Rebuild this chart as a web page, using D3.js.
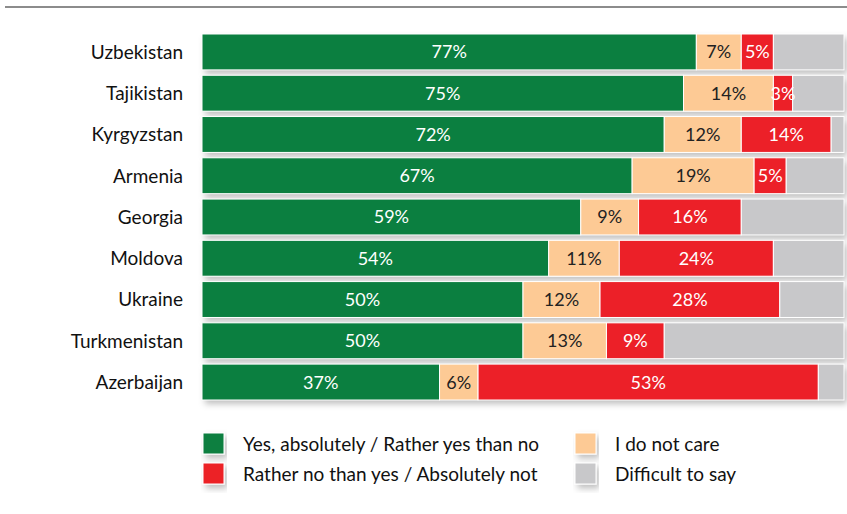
<!DOCTYPE html>
<html>
<head>
<meta charset="utf-8">
<script src="https://cdn.jsdelivr.net/npm/d3@7"></script>
<style>
  body { margin: 0; background: #fff; }
  text { font-family: Lato, "Noto Sans", sans-serif; }
</style>
</head>
<body>
<div id="chart"></div>
<script>
// chart values
var countries = ["Uzbekistan", "Tajikistan", "Kyrgyzstan", "Armenia", "Georgia", "Moldova", "Ukraine", "Turkmenistan", "Azerbaijan"];
var yes = [77, 75, 72, 67, 59, 54, 50, 50, 37];
var dontCare = [7, 14, 12, 19, 9, 11, 12, 13, 6];
var no = [5, 3, 14, 5, 16, 24, 28, 9, 53];
var seriesNames = ["Yes, absolutely / Rather yes than no", "I do not care", "Rather no than yes / Absolutely not", "Difficult to say"];
var colors = ["#0b7f40", "#fdca95", "#ec2028", "#c8c8ca"];

var width = 847, height = 514;
var margin = { top: 34, bottom: 400, left: 202, right: 3 };

var svg = d3.select("#chart").append("svg")
    .attr("width", width)
    .attr("height", height);

var defs = svg.append("defs");
var f = defs.append("filter").attr("id", "shadow")
    .attr("x", "-5%").attr("y", "-20%").attr("width", "115%").attr("height", "160%");
f.append("feDropShadow")
    .attr("dx", 3).attr("dy", 4).attr("stdDeviation", 3)
    .attr("flood-color", "#000").attr("flood-opacity", 0.25);

// top rule
svg.append("line")
    .attr("x1", 5).attr("x2", width)
    .attr("y1", 7).attr("y2", 7)
    .attr("stroke", "#666").attr("stroke-width", 1.5);

var rows = countries.map(function(c, i) {
    return { country: c, yes: yes[i], care: dontCare[i], no: no[i], diff: 100 - yes[i] - dontCare[i] - no[i] };
});
var keys = ["yes", "care", "no", "diff"];
var stacked = d3.stack().keys(keys)(rows);

var x = d3.scaleLinear().domain([0, 100]).range([margin.left, width - margin.right]);
var y = d3.scaleBand().domain(countries)
    .range([margin.top, margin.bottom])
    .paddingInner(0.13).paddingOuter(0);

var g = svg.append("g");

// shadow under each bar
g.selectAll(".bg")
    .data(rows)
    .enter().append("rect")
    .attr("x", x(0))
    .attr("y", function(d) { return y(d.country); })
    .attr("width", x(100) - x(0))
    .attr("height", y.bandwidth())
    .attr("fill", "#fff")
    .attr("filter", "url(#shadow)");

var layer = g.selectAll(".layer")
    .data(stacked)
    .enter().append("g")
    .attr("fill", function(d, i) { return colors[i]; });

layer.selectAll("rect")
    .data(function(d) { return d; })
    .enter().append("rect")
    .attr("x", function(d) { return x(d[0]); })
    .attr("y", function(d) { return y(d.data.country); })
    .attr("width", function(d) { return x(d[1]) - x(d[0]); })
    .attr("height", y.bandwidth())
    .attr("stroke", "#fff")
    .attr("stroke-width", 1);

// value labels (not on the gray part)
stacked.slice(0, 3).forEach(function(s, si) {
    g.selectAll(".lbl" + si)
        .data(s)
        .enter().append("text")
        .attr("x", function(d) { return (x(d[0]) + x(d[1])) / 2; })
        .attr("y", function(d) { return y(d.data.country) + y.bandwidth() / 2; })
        .attr("dy", "0.36em")
        .attr("text-anchor", "middle")
        .attr("font-size", 18)
        .attr("fill", si === 1 ? "#222" : "#fff")
        .text(function(d) { return (d[1] - d[0]) + "%"; });
});

// country labels
g.selectAll(".country")
    .data(countries)
    .enter().append("text")
    .attr("x", 183)
    .attr("y", function(d) { return y(d) + y.bandwidth() / 2; })
    .attr("dy", "0.36em")
    .attr("text-anchor", "end")
    .attr("font-size", 19)
    .attr("fill", "#111")
    .text(function(d) { return d; });

// legend
var legendItems = [
    { name: seriesNames[0], color: colors[0], lx: 203, ly: 433 },
    { name: seriesNames[2], color: colors[2], lx: 203, ly: 463 },
    { name: seriesNames[1], color: colors[1], lx: 575, ly: 433 },
    { name: seriesNames[3], color: colors[3], lx: 575, ly: 463 }
];
var leg = svg.selectAll(".legend")
    .data(legendItems)
    .enter().append("g")
    .attr("transform", function(d) { return "translate(" + d.lx + "," + d.ly + ")"; });
leg.append("rect")
    .attr("width", 21).attr("height", 21)
    .attr("fill", function(d) { return d.color; })
    .attr("stroke", "#fff")
    .attr("filter", "url(#shadow)");
leg.append("text")
    .attr("x", 40)
    .attr("y", 11)
    .attr("dy", "0.36em")
    .attr("font-size", 19)
    .attr("fill", "#111")
    .text(function(d) { return d.name; });
</script>
</body>
</html>
